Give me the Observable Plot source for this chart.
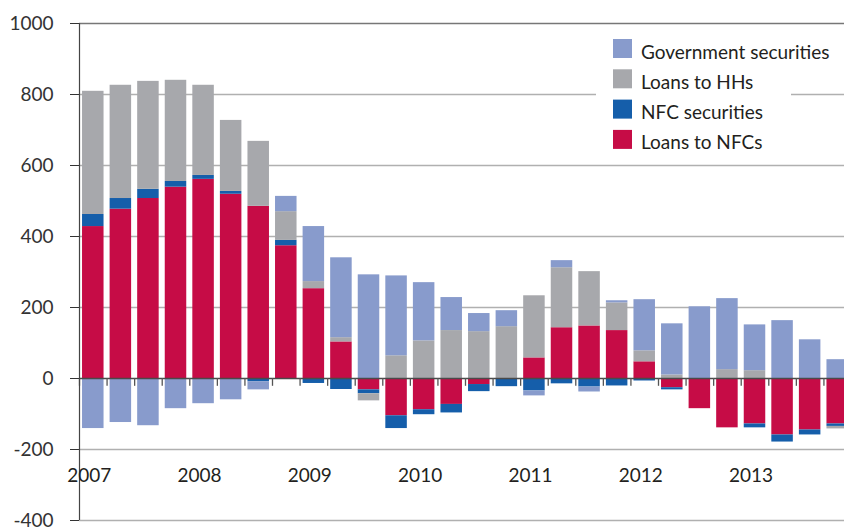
<!DOCTYPE html>
<html><head><meta charset="utf-8">
<script src="https://cdn.jsdelivr.net/npm/d3@7"></script>
<script src="https://cdn.jsdelivr.net/npm/@observablehq/plot@0.6"></script>
<style>html,body{margin:0;padding:0;background:#fff;overflow:hidden;} #chart{width:844px;height:527px;}</style>
</head><body><div id="chart"></div>
<script>
const quarters = [
  "2007 Q1","2007 Q2","2007 Q3","2007 Q4",
  "2008 Q1","2008 Q2","2008 Q3","2008 Q4",
  "2009 Q1","2009 Q2","2009 Q3","2009 Q4",
  "2010 Q1","2010 Q2","2010 Q3","2010 Q4",
  "2011 Q1","2011 Q2","2011 Q3","2011 Q4",
  "2012 Q1","2012 Q2","2012 Q3","2012 Q4",
  "2013 Q1","2013 Q2","2013 Q3","2013 Q4"
];
const seriesNames = ["Loans to NFCs", "NFC securities", "Loans to HHs", "Government securities"];
const seriesColors = ["#c60c46", "#155eaa", "#a7a8ac", "#889bcc"];
const legendOrder = ["Government securities", "Loans to HHs", "NFC securities", "Loans to NFCs"];

const loansToNFCs = [428, 477, 507, 539, 561, 519, 485, 374, 253, 103, -32, -105, -88, -73, -17, 0, 58, 143, 148, 135, 47, -26, -85, -139, -128, -159, -145, -128];
const nfcSecurities = [34, 30, 26, 16, 11, 8, -9, 15, -14, -31, -11, -36, -14, -24, -20, -23, -35, -15, -24, -21, -7, -6, 0, 0, -11, -20, -14, -7];
const loansToHHs = [347, 319, 304, 285, 254, 200, 183, 81, 20, 12, -20, 64, 106, 135, 132, 146, 175, 169, 153, 78, 31, 10, 0, 25, 22, 0, 0, -7];
const governmentSecurities = [-141, -124, -133, -85, -71, -60, -23, 43, 155, 225, 292, 225, 164, 93, 51, 45, -14, 20, -14, 6, 144, 144, 202, 200, 129, 163, 109, 53];

const yTicks = [-400, -200, 0, 200, 400, 600, 800, 1000];
const yearLabels = ["2007", "2008", "2009", "2010", "2011", "2012", "2013"];

const seriesValues = [loansToNFCs, nfcSecurities, loansToHHs, governmentSecurities];
const data = seriesNames.flatMap((s, k) => quarters.map((q, i) => ({quarter: q, series: s, value: seriesValues[k][i]})));

const W = 844, H = 527, xLeft = 79, xRight = 851;
const step = (xRight - xLeft) / quarters.length;
const font = "Lato, 'Open Sans', sans-serif";

const legendMark = (index, scales) => {
  const g = d3.create("svg:g").attr("text-anchor", "start");
  g.append("rect").attr("x", 596).attr("y", 30).attr("width", 195).attr("height", 128).attr("fill", "white");
  legendOrder.forEach((s, i) => {
    const top = 39 + i * 30.3;
    g.append("rect").attr("x", 613).attr("y", top).attr("width", 19).attr("height", 19).attr("fill", scales.color(s));
    g.append("text").attr("x", 641).attr("y", top + 19.5).attr("text-anchor", "start")
      .attr("font-family", font).attr("font-size", 19).attr("fill", "#231f20").text(s);
  });
  return g.node();
};

const chart = Plot.plot({
  width: W, height: H,
  marginLeft: xLeft, marginRight: 0, marginTop: 23, marginBottom: 7,
  style: {fontFamily: font, fontSize: "19px", background: "white", color: "#231f20"},
  x: {type: "band", domain: quarters, range: [xLeft, xRight], paddingInner: 0.22, paddingOuter: 0.11, round: false, axis: null},
  y: {domain: [-400, 1000], label: null},
  color: {domain: seriesNames, range: seriesColors},
  marks: [
    Plot.ruleY(yTicks.filter(d => d !== 0 && d !== 1000), {stroke: "#b0b0b0", strokeWidth: 1.3}),
    Plot.ruleY([1000], {stroke: "#777", strokeWidth: 1.3}),
    Plot.barY(data, {x: "quarter", y: "value", fill: "series", order: seriesNames}),
    Plot.ruleY([0], {stroke: "#4a4a4a", strokeWidth: 1.5}),
    Plot.ruleX(quarters, {x: d => d, y1: 0, y2: -22, dx: -step / 2, stroke: "#555", strokeWidth: 1.3}),
    Plot.ruleX([quarters[0]], {x: d => d, y1: -400, y2: 1000, dx: -step / 2, stroke: "#444", strokeWidth: 1.2}),
    Plot.axisY(yTicks, {tickSize: 9, tickPadding: 17, tickFormat: d => String(d), color: "#333", fontSize: 19, label: null}),
    Plot.text(yearLabels, {x: d => d + " Q1", y: -275, dx: -4, text: d => d, fontSize: 19, fill: "#231f20"}),
    legendMark
  ]
});
document.getElementById("chart").appendChild(chart);
</script>
</body></html>
